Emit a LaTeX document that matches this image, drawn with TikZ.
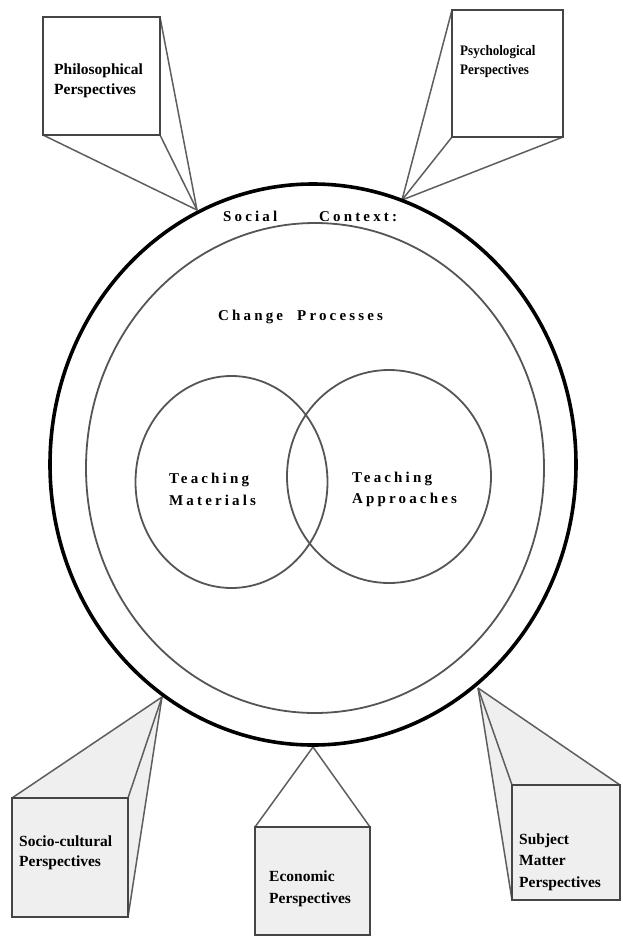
\documentclass[tikz,border=0pt]{standalone}
\usepackage{fontspec}
\setmainfont{Liberation Serif}
\newfontfamily\trk[LetterSpace=21]{Liberation Serif}
\newfontfamily\cond[FakeStretch=0.9]{Liberation Serif}
\usetikzlibrary{shapes.geometric,backgrounds}
\definecolor{boxline}{HTML}{454545}
\definecolor{conline}{HTML}{5E5E5E}
\definecolor{ringline}{HTML}{555555}
\definecolor{paleface}{HTML}{EFEFEF}
\begin{document}
\begin{tikzpicture}[x=1pt,y=-1pt,
  pbox/.style={draw=boxline, line width=2.4pt, rectangle, inner sep=0pt, outer sep=0pt},
  conn/.style={draw=conline, line width=1.5pt},
  btext/.style={anchor=north west, inner sep=0pt, align=left, font=\bfseries\fontsize{15.5}{20}\selectfont},
  stext/.style={inner sep=0pt, align=left, font=\trk\bfseries\fontsize{15}{22}\selectfont},
  ring/.style={draw=ringline, line width=1.8pt, ellipse, inner sep=0pt, outer sep=0pt}]

\useasboundingbox (0,0) rectangle (622,938);

% apex points on the outer ring
\coordinate (philapex) at (197,210);
\coordinate (psyapex) at (402,200);
\coordinate (socapex) at (162,697);
\coordinate (ecoapex) at (313,747);
\coordinate (subjapex) at (478,688);

% perspective boxes
\node[pbox, fill=white, minimum width=117pt, minimum height=118pt] (philbox) at (101.5,76) {};
\node[pbox, fill=white, minimum width=111pt, minimum height=127pt] (psybox) at (507.5,73.5) {};
\node[pbox, fill=paleface, minimum width=116pt, minimum height=119pt] (socbox) at (70,857.5) {};
\node[pbox, fill=paleface, minimum width=115pt, minimum height=108pt] (ecobox) at (312.5,881) {};
\node[pbox, fill=paleface, minimum width=108pt, minimum height=115pt] (subjbox) at (566,842.5) {};

\begin{scope}[on background layer]
  \fill[white] (0,0) rectangle (622,938);
  \fill[paleface] (socapex) -- (socbox.north west) -- (socbox.north east) -- (socbox.south east) -- cycle;
  \fill[paleface] (subjapex) -- (subjbox.north east) -- (subjbox.north west) -- (subjbox.south west) -- cycle;
  \draw[conn] (philapex) -- (philbox.north east);
  \draw[conn] (philapex) -- (philbox.south east);
  \draw[conn] (philapex) -- (philbox.south west);
  \draw[conn] (psyapex) -- (psybox.north west);
  \draw[conn] (psyapex) -- (psybox.south west);
  \draw[conn] (psyapex) -- (psybox.south east);
  \draw[conn] (socapex) -- (socbox.north west);
  \draw[conn] (socapex) -- (socbox.north east);
  \draw[conn] (socapex) -- (socbox.south east);
  \draw[conn] (ecoapex) -- (ecobox.north west);
  \draw[conn] (ecoapex) -- (ecobox.north east);
  \draw[conn] (subjapex) -- (subjbox.north west);
  \draw[conn] (subjapex) -- (subjbox.north east);
  \draw[conn] (subjapex) -- (subjbox.south west);
\end{scope}

% rings
\node[ring, fill=white, draw=black, line width=3.6pt, minimum width=526pt, minimum height=561pt] (outer) at (313,464.5) {};
\node[ring, minimum width=458pt, minimum height=490pt] (inner) at (315,468) {};
\node[ring, minimum width=192pt, minimum height=212pt] (matc) at (231.5,482) {};
\node[ring, minimum width=204pt, minimum height=213pt] (appc) at (389,476.5) {};

% texts
\node[btext] (philtext) at (54,63.5) {Philosophical\\Perspectives};
\node[btext, font=\cond\bfseries\fontsize{14.5}{19}\selectfont] (psytext) at (460,45) {Psychological\\Perspectives};
\node[btext] (soctext) at (19,835.5) {Socio-cultural\\Perspectives};
\node[btext, font=\bfseries\fontsize{15.5}{22}\selectfont] (ecotext) at (269,870.5) {Economic\\Perspectives};
\node[btext, font=\bfseries\fontsize{15.5}{21.5}\selectfont] (subjtext) at (519,833.5) {Subject\\Matter\\Perspectives};

\node[stext, anchor=base west] (social) at (223,221) {\makebox[96pt][l]{Social}Context:};
\node[stext, anchor=base west] (change) at (218,320) {\makebox[79pt][l]{Change}Processes};
\node[stext, anchor=north west] (mattext) at (169,472.8) {Teaching\\Materials};
\node[stext, anchor=north west, font=\trk\bfseries\fontsize{15}{21}\selectfont] (apptext) at (352,471.8) {Teaching\\Approaches};
\end{tikzpicture}
\end{document}
